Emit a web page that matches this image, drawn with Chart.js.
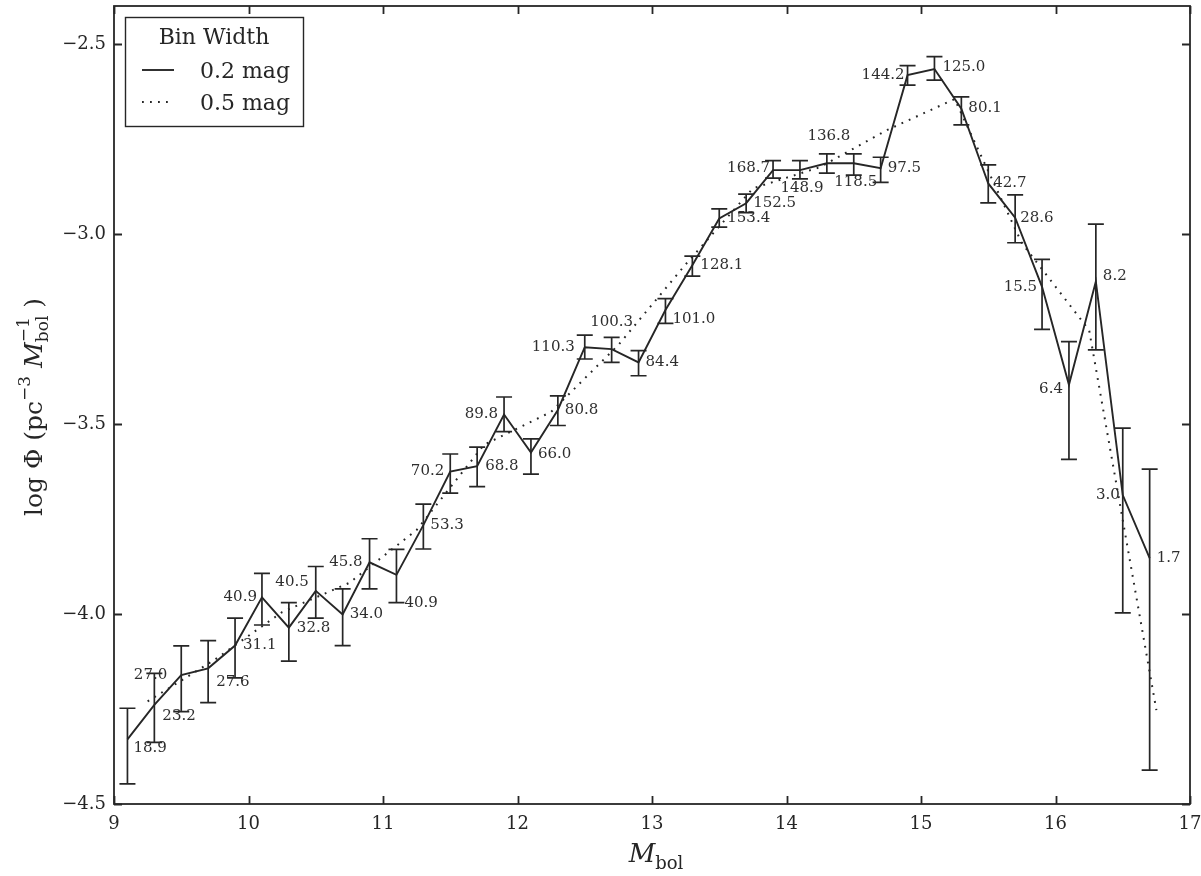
<!DOCTYPE html>
<html>
<head>
<meta charset="utf-8">
<title>White dwarf luminosity function</title>
<script src="https://cdn.jsdelivr.net/npm/chart.js@4.4.1/dist/chart.umd.min.js"></script>
<style>
  html, body { margin: 0; padding: 0; background: #fff; }
  #wrap { width: 1201px; height: 876px; }
</style>
</head>
<body>
<div id="wrap"><canvas id="lf" width="1201" height="876"></canvas></div>
<script>
// 0.2 mag bins
const binCenters02 = [9.1, 9.3, 9.5, 9.7, 9.9, 10.1, 10.3, 10.5, 10.7, 10.9,
  11.1, 11.3, 11.5, 11.7, 11.9, 12.1, 12.3, 12.5, 12.7, 12.9,
  13.1, 13.3, 13.5, 13.7, 13.9, 14.1, 14.3, 14.5, 14.7, 14.9,
  15.1, 15.3, 15.5, 15.7, 15.9, 16.1, 16.3, 16.5, 16.7];
const logPhi02 = [-4.330, -4.239, -4.161, -4.143, -4.083, -3.956, -4.036, -3.939, -4.001, -3.864,
  -3.897, -3.766, -3.625, -3.611, -3.475, -3.575, -3.463, -3.298, -3.303, -3.338,
  -3.200, -3.082, -2.959, -2.919, -2.832, -2.832, -2.814, -2.814, -2.827, -2.582,
  -2.566, -2.670, -2.867, -2.957, -3.139, -3.397, -3.125, -3.687, -3.853];
const errHigh02 = [-4.248, -4.156, -4.084, -4.070, -4.011, -3.893, -3.970, -3.875, -3.934, -3.802,
  -3.830, -3.711, -3.579, -3.561, -3.429, -3.539, -3.426, -3.266, -3.272, -3.307,
  -3.170, -3.058, -2.934, -2.895, -2.807, -2.807, -2.789, -2.789, -2.798, -2.557,
  -2.533, -2.639, -2.818, -2.897, -3.067, -3.283, -2.974, -3.511, -3.619];
const errLow02 = [-4.447, -4.338, -4.257, -4.233, -4.168, -4.029, -4.124, -4.011, -4.083, -3.934,
  -3.970, -3.829, -3.682, -3.665, -3.520, -3.632, -3.504, -3.329, -3.338, -3.373,
  -3.235, -3.111, -2.982, -2.944, -2.853, -2.855, -2.840, -2.845, -2.864, -2.608,
  -2.595, -2.713, -2.918, -3.023, -3.251, -3.593, -3.305, -3.997, -4.411];
const starCounts02 = [18.9, 23.2, 27.0, 27.6, 31.1, 40.9, 32.8, 40.5, 34.0, 45.8,
  40.9, 53.3, 70.2, 68.8, 89.8, 66.0, 80.8, 110.3, 100.3, 84.4,
  101.0, 128.1, 153.4, 152.5, 168.7, 148.9, 136.8, 118.5, 97.5, 144.2,
  125.0, 80.1, 42.7, 28.6, 15.5, 6.4, 8.2, 3.0, 1.7];

// 0.5 mag bins
const binCenters05 = [9.25, 9.75, 10.25, 10.75, 11.25, 11.75, 12.25, 12.75,
  13.25, 13.75, 14.25, 14.75, 15.25, 15.75, 16.25, 16.75];
const logPhi05 = [-4.23, -4.12, -3.995, -3.918, -3.779, -3.555, -3.468, -3.292,
  -3.08, -2.88, -2.824, -2.726, -2.645, -3.024, -3.253, -4.253];

const xTicks = [9, 10, 11, 12, 13, 14, 15, 16, 17];
const yTicks = [-4.5, -4.0, -3.5, -3.0, -2.5];

// where each count label sits next to its point: [dx, dy, align]
const countLabelPlace = [
  [6, 9, 'left'], [8, 11, 'left'], [-14, 0, 'right'], [8, 14, 'left'], [8, 0, 'left'],
  [-5, 0, 'right'], [8, 0, 'left'], [-7, -9, 'right'], [7, 0, 'left'], [-7, 0, 'right'],
  [8, 28, 'left'], [7, 0, 'left'], [-6, 0, 'right'], [8, 0, 'left'], [-6, 0, 'right'],
  [7, 2, 'left'], [7, 0, 'left'], [-10, 0, 'right'], [0, -27, 'center'], [7, 0, 'left'],
  [7, 9, 'left'], [8, 0, 'left'], [8, 0, 'left'], [7, 0, 'left'], [-3, -2, 'right'],
  [2, 18, 'center'], [2, -27, 'center'], [2, 19, 'center'], [7, 0, 'left'], [-3, 0, 'right'],
  [8, -2, 'left'], [7, 0, 'left'], [5, 0, 'left'], [5, 0, 'left'], [-5, 0, 'right'],
  [-6, 4, 'right'], [7, -5, 'left'], [-3, 0, 'right'], [7, 0, 'left']
];

const INK = '#262626';
const SERIF = '"DejaVu Serif", serif';
const DOTS = [1.8, 6.2];

// draws a run of text pieces; pieces in one group share the same x (sub + superscript)
function richWidth(ctx, parts) {
  let w = 0;
  parts.forEach(p => {
    if (p.gap) { w += p.gap; return; }
    const items = Array.isArray(p) ? p : [p];
    let m = 0;
    items.forEach(it => { ctx.font = it.font; m = Math.max(m, ctx.measureText(it.text).width); });
    w += m;
  });
  return w;
}
function drawRich(ctx, parts, x0, y0) {
  let x = x0;
  parts.forEach(p => {
    if (p.gap) { x += p.gap; return; }
    const items = Array.isArray(p) ? p : [p];
    let m = 0;
    items.forEach(it => {
      ctx.font = it.font;
      ctx.fillText(it.text, x, y0 + (it.dy || 0));
      m = Math.max(m, ctx.measureText(it.text).width);
    });
    x += m;
  });
}

const decorations = {
  id: 'decorations',
  afterDatasetsDraw(chart) {
    const { ctx, chartArea: a, scales: { x, y } } = chart;
    ctx.save();
    ctx.strokeStyle = INK;
    ctx.fillStyle = INK;

    // error bars
    ctx.lineWidth = 1.7;
    binCenters02.forEach((m, i) => {
      const px = x.getPixelForValue(m);
      const top = y.getPixelForValue(errHigh02[i]);
      const bot = y.getPixelForValue(errLow02[i]);
      ctx.beginPath();
      ctx.moveTo(px, top); ctx.lineTo(px, bot);
      ctx.moveTo(px - 8, top); ctx.lineTo(px + 8, top);
      ctx.moveTo(px - 8, bot); ctx.lineTo(px + 8, bot);
      ctx.stroke();
    });

    // frame and inward ticks
    ctx.lineWidth = 1.8;
    ctx.strokeRect(a.left, a.top, a.right - a.left, a.bottom - a.top);
    ctx.beginPath();
    xTicks.forEach(v => {
      const px = Math.round(x.getPixelForValue(v)) + 0.5;
      ctx.moveTo(px, a.bottom); ctx.lineTo(px, a.bottom - 8);
      ctx.moveTo(px, a.top); ctx.lineTo(px, a.top + 8);
    });
    yTicks.forEach(v => {
      const py = Math.round(y.getPixelForValue(v)) + 0.5;
      ctx.moveTo(a.left, py); ctx.lineTo(a.left + 8, py);
      ctx.moveTo(a.right, py); ctx.lineTo(a.right - 8, py);
    });
    ctx.stroke();

    // count labels
    ctx.font = '15px ' + SERIF;
    ctx.fillStyle = '#2e2e2e';
    ctx.textBaseline = 'middle';
    starCounts02.forEach((n, i) => {
      const [dx, dy, align] = countLabelPlace[i];
      ctx.textAlign = align;
      ctx.fillText(n.toFixed(1), x.getPixelForValue(binCenters02[i]) + dx,
        y.getPixelForValue(logPhi02[i]) + dy);
    });

    // legend box
    const lx = a.left + 11, ly = a.top + 11;
    ctx.fillStyle = '#fff';
    ctx.fillRect(lx, ly, 178, 109);
    ctx.lineWidth = 1.4;
    ctx.strokeStyle = INK;
    ctx.strokeRect(lx + 0.5, ly + 0.5, 178, 109);
    ctx.fillStyle = INK;
    ctx.font = '22px ' + SERIF;
    ctx.textAlign = 'center';
    ctx.fillText('Bin Width', lx + 89, ly + 21);
    ctx.textAlign = 'left';
    chart.data.datasets.forEach((ds, i) => {
      const ry = ly + 53 + i * 32;
      ctx.beginPath();
      ctx.lineWidth = ds.borderWidth;
      ctx.setLineDash(ds.borderDash || []);
      ctx.moveTo(lx + 17, ry); ctx.lineTo(lx + 49, ry);
      ctx.stroke();
      ctx.setLineDash([]);
      ctx.fillText(ds.label, lx + 75, ry + 2);
    });

    // axis titles
    ctx.textBaseline = 'alphabetic';
    ctx.textAlign = 'left';
    const xTitle = [
      { text: 'M', font: 'italic 26px ' + SERIF },
      { text: 'bol', font: '18px ' + SERIF, dy: 7 }
    ];
    const cx = (a.left + a.right) / 2;
    drawRich(ctx, xTitle, cx - richWidth(ctx, xTitle) / 2 + 4, 862);

    const yTitle = [
      { text: 'log \u03A6 (pc', font: '25px ' + SERIF },
      { text: '\u22123', font: '17px ' + SERIF, dy: -12 },
      { gap: 8 },
      { text: 'M', font: 'italic 25px ' + SERIF },
      [{ text: 'bol', font: '17px ' + SERIF, dy: 6 }, { text: '\u22121', font: '17px ' + SERIF, dy: -13 }],
      { gap: 8 },
      { text: ')', font: '25px ' + SERIF }
    ];
    ctx.translate(42, (a.top + a.bottom) / 2 + 2);
    ctx.rotate(-Math.PI / 2);
    drawRich(ctx, yTitle, -richWidth(ctx, yTitle) / 2, 0);
    ctx.restore();
  }
};

new Chart(document.getElementById('lf'), {
  type: 'line',
  data: {
    datasets: [
      {
        label: '0.2 mag',
        data: binCenters02.map((m, i) => ({ x: m, y: logPhi02[i] })),
        borderColor: INK,
        borderWidth: 1.9,
        pointRadius: 0,
        tension: 0
      },
      {
        label: '0.5 mag',
        data: binCenters05.map((m, i) => ({ x: m, y: logPhi05[i] })),
        borderColor: INK,
        borderWidth: 2,
        borderDash: DOTS,
        pointRadius: 0,
        tension: 0
      }
    ]
  },
  options: {
    responsive: false,
    devicePixelRatio: 1,
    animation: false,
    layout: { padding: { top: 6, right: 11, left: 0, bottom: 0 } },
    plugins: { legend: { display: false }, tooltip: { enabled: false } },
    scales: {
      x: {
        type: 'linear', min: 9, max: 17,
        grid: { display: false }, border: { display: false },
        afterBuildTicks: s => { s.ticks = xTicks.map(v => ({ value: v })); },
        afterFit: s => { s.height = 72; s.paddingLeft = 0; s.paddingRight = 0; },
        ticks: { font: { family: SERIF, size: 18 }, color: INK, padding: 2,
          maxRotation: 0, callback: v => String(v) }
      },
      y: {
        type: 'linear', min: -4.5, max: -2.4,
        grid: { display: false }, border: { display: false },
        afterBuildTicks: s => { s.ticks = yTicks.map(v => ({ value: v })); },
        afterFit: s => { s.width = 114; s.paddingTop = 0; s.paddingBottom = 0; },
        ticks: { font: { family: SERIF, size: 18 }, color: INK, padding: 0,
          callback: v => (v < 0 ? '\u2212' : '') + Math.abs(v).toFixed(1) }
      }
    }
  },
  plugins: [decorations]
});
</script>
</body>
</html>
